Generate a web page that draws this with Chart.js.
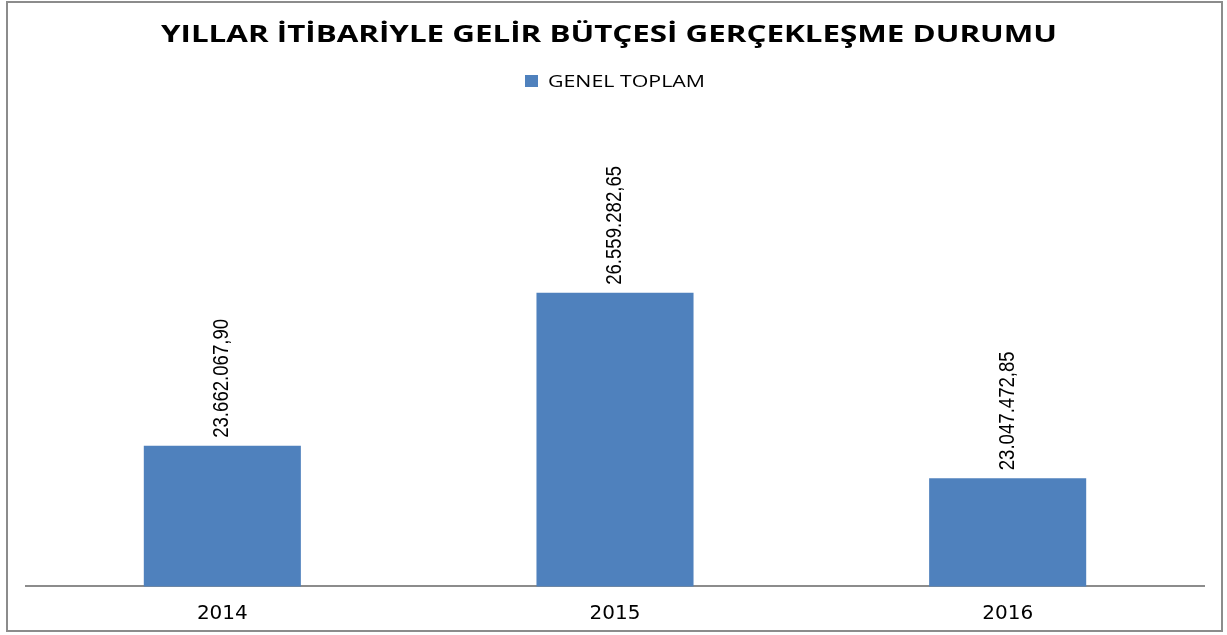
<!DOCTYPE html>
<html>
<head>
<meta charset="utf-8">
<script src="https://cdn.jsdelivr.net/npm/chart.js@4.4.1/dist/chart.umd.min.js"></script>
<style>
	html, body { margin: 0; padding: 0; background: #fff; }
	#wrap { position: relative; width: 1227px; height: 635px; }
	canvas { display: block; }
</style>
</head>
<body>
<div id="wrap"><canvas id="chart" width="1227" height="635"></canvas></div>
<script>
	// データ
	const years = ['2014', '2015', '2016'];
	const genelToplam = [23662067.90, 26559282.65, 23047472.85];
	const seriesName = 'GENEL TOPLAM';
	const chartTitle = 'YILLAR İTİBARİYLE GELİR BÜTÇESİ GERÇEKLEŞME DURUMU';
	const axisMin = 21000000;
	const axisMax = 30240000;

	// 数値を 23.662.067,90 形式に
	function fmtTR(v) {
		const parts = v.toFixed(2).split('.');
		return parts[0].replace(/\B(?=(\d{3})+(?!\d))/g, '.') + ',' + parts[1];
	}

	// 横に引き伸ばした文字（元画像は横長に描かれている）
	function stretchText(ctx, text, x, y, font, width) {
		ctx.save();
		ctx.font = font;
		const w = ctx.measureText(text).width;
		ctx.translate(x, y);
		ctx.scale(width / w, 1);
		ctx.fillText(text, 0, 0);
		ctx.restore();
	}

	// 外枠・タイトル・凡例
	const frame = {
		id: 'frame',
		afterDraw(chart) {
			const ctx = chart.ctx;
			ctx.save();
			ctx.strokeStyle = '#8c8c8c';
			ctx.lineWidth = 2;
			ctx.strokeRect(7, 2, 1215, 629);

			ctx.fillStyle = '#000';
			ctx.textAlign = 'left';
			ctx.textBaseline = 'middle';
			stretchText(ctx, chartTitle, 161, 35, 'bold 23px "Open Sans", sans-serif', 896);

			// 凡例
			ctx.fillStyle = chart.data.datasets[0].backgroundColor;
			ctx.fillRect(525, 75, 13, 12);
			ctx.fillStyle = '#000';
			stretchText(ctx, chart.data.datasets[0].label, 548, 82, '17px "Open Sans", sans-serif', 157);
			ctx.restore();
		}
	};

	// 縦書きのデータラベル
	const barLabels = {
		id: 'barLabels',
		afterDatasetsDraw(chart) {
			const ctx = chart.ctx;
			const meta = chart.getDatasetMeta(0);
			ctx.save();
			ctx.font = '22px "Liberation Sans", sans-serif';
			ctx.fillStyle = '#000';
			ctx.textAlign = 'left';
			ctx.textBaseline = 'middle';
			meta.data.forEach((bar, i) => {
				const txt = fmtTR(genelToplam[i]);
				const w = ctx.measureText(txt).width;
				ctx.save();
				ctx.translate(bar.x, bar.y - 8);
				ctx.rotate(-Math.PI / 2);
				ctx.scale(119 / w, 1);
				ctx.fillText(txt, 0, 0);
				ctx.restore();
			});
			ctx.restore();
		}
	};

	new Chart(document.getElementById('chart'), {
		type: 'bar',
		data: {
			labels: years,
			datasets: [{
				label: seriesName,
				data: genelToplam,
				backgroundColor: '#4f81bd',
				borderWidth: 0,
				barPercentage: 0.4,
				categoryPercentage: 1.0
			}]
		},
		options: {
			responsive: false,
			animation: false,
			layout: { padding: { top: 98.5, left: 26, right: 23, bottom: -5.4 } },
			plugins: {
				title: { display: false },
				legend: { display: false },
				tooltip: { enabled: false }
			},
			scales: {
				x: {
					grid: { display: true, drawOnChartArea: false, drawTicks: false },
					border: { display: true, color: '#8c8c8c', width: 2 },
					ticks: {
						color: '#000',
						padding: 15,
						font: { family: '"DejaVu Sans", sans-serif', size: 20 }
					}
				},
				y: {
					display: false,
					min: axisMin,
					max: axisMax
				}
			}
		},
		plugins: [frame, barLabels]
	});
</script>
</body>
</html>
